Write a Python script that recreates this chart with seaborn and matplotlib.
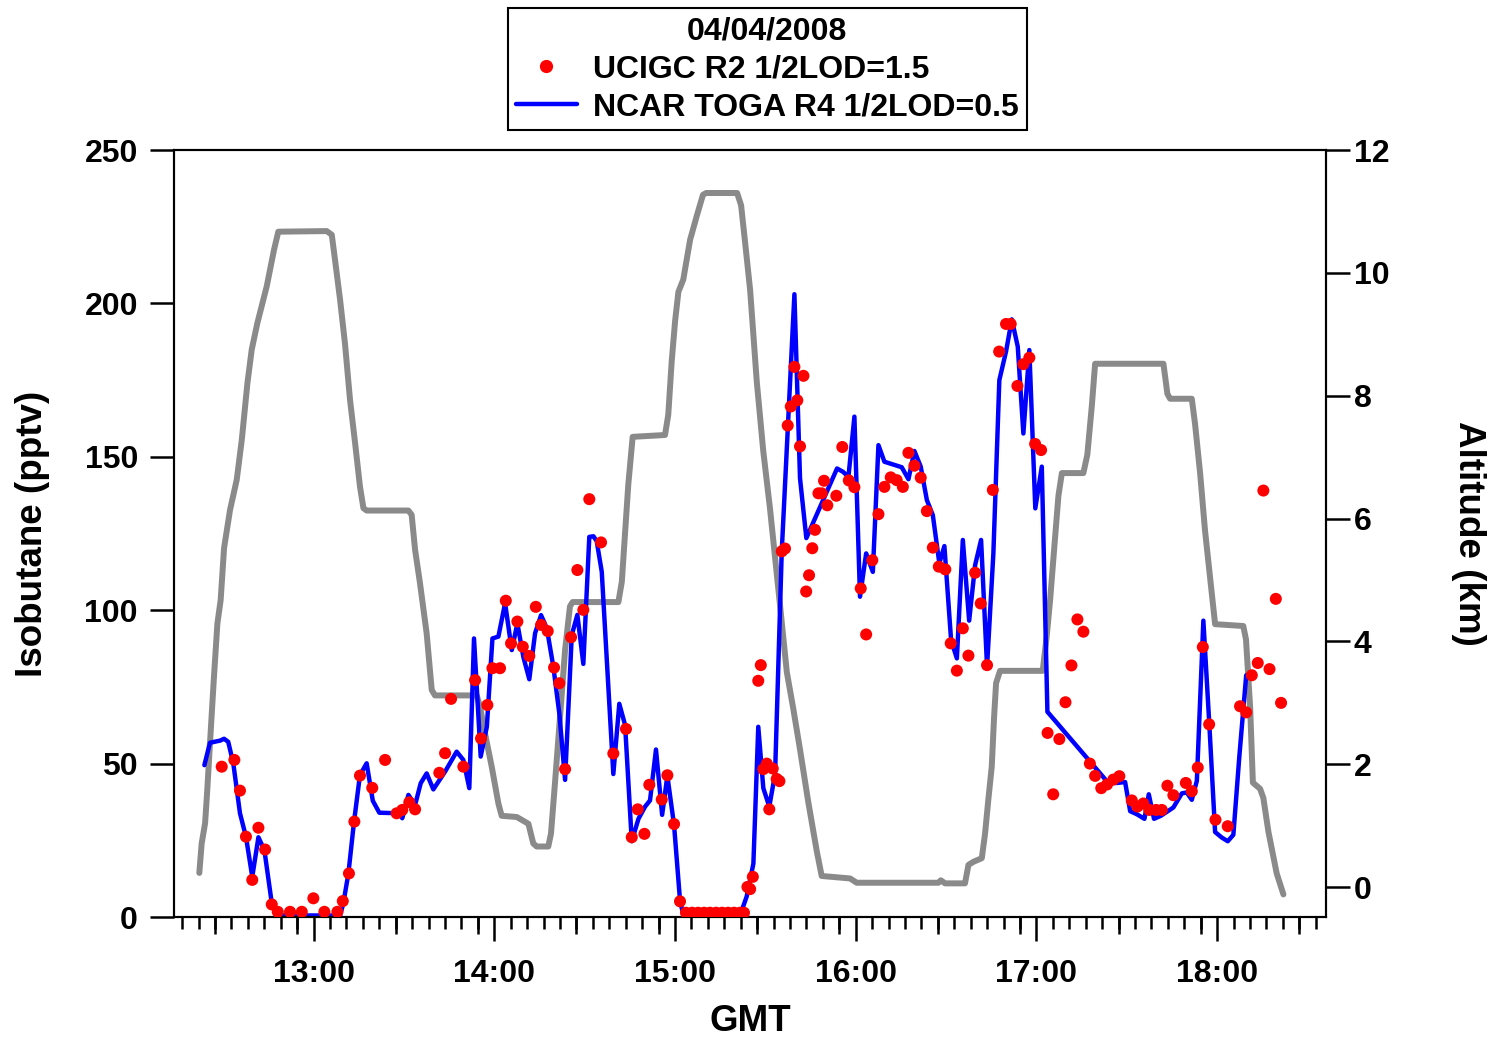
import numpy as np
import pandas as pd
import matplotlib
matplotlib.use("Agg")
import matplotlib.pyplot as plt
import seaborn as sns
from matplotlib.lines import Line2D
from matplotlib.ticker import FixedLocator, FuncFormatter, NullFormatter

# ==================== 数据 (GMT, decimal hours) ====================

# NCAR TOGA isobutane (pptv)
toga_time = [12.396, 12.427, 12.483, 12.505, 12.528, 12.556, 12.593, 12.626, 12.661, 12.695,
             12.728, 12.769, 12.815, 12.870, 12.930, 12.990, 13.050, 13.100, 13.147, 13.165,
             13.193, 13.224, 13.257, 13.294, 13.328, 13.364, 13.423, 13.479, 13.491, 13.525,
             13.562, 13.593, 13.626, 13.663, 13.728, 13.792, 13.829, 13.862, 13.888, 13.925,
             13.959, 13.990, 14.023, 14.060, 14.097, 14.128, 14.161, 14.194, 14.226, 14.259,
             14.291, 14.327, 14.360, 14.392, 14.429, 14.460, 14.493, 14.526, 14.549, 14.567,
             14.595, 14.659, 14.692, 14.724, 14.761, 14.798, 14.835, 14.862, 14.895, 14.929,
             14.958, 14.995, 15.028, 15.047, 15.110, 15.170, 15.230, 15.300, 15.360, 15.397,
             15.434, 15.461, 15.489, 15.522, 15.554, 15.591, 15.628, 15.661, 15.692, 15.727,
             15.897, 15.930, 15.960, 15.993, 16.024, 16.058, 16.095, 16.126, 16.159, 16.255,
             16.292, 16.325, 16.360, 16.394, 16.427, 16.463, 16.491, 16.528, 16.560, 16.593,
             16.628, 16.661, 16.694, 16.727, 16.762, 16.795, 16.832, 16.864, 16.897, 16.928,
             16.961, 16.994, 17.030, 17.061, 17.398, 17.448, 17.491, 17.519, 17.556, 17.598,
             17.622, 17.651, 17.689, 17.758, 17.805, 17.832, 17.860, 17.888, 17.924, 17.957,
             17.989, 18.026, 18.059, 18.090, 18.123, 18.161]
toga_isobutane = [49.5, 56.8, 57.5, 58.1, 57.1, 50.1, 33.8, 26.2, 13.1, 26.0,
                  21.8, 4.5, 0.5, 0.5, 0.5, 0.5, 0.5, 0.5, 0.5, 4.5,
                  14.2, 31.0, 46.3, 50.1, 37.9, 34.0, 33.9, 33.8, 32.2, 39.8,
                  36.5, 43.6, 46.8, 41.6, 47.4, 53.9, 51.2, 42.0, 90.8, 52.3,
                  62.0, 90.8, 91.4, 102.3, 87.0, 95.7, 84.8, 77.5, 92.5, 98.4,
                  94.1, 81.6, 66.4, 44.7, 91.9, 98.5, 82.5, 123.9, 124.1, 122.5,
                  112.5, 46.6, 69.5, 62.6, 24.7, 32.0, 36.0, 38.0, 54.6, 33.3,
                  46.0, 30.0, 5.4, 0.5, 0.5, 0.5, 0.5, 0.5, 0.5, 6.7,
                  17.4, 62.0, 42.0, 36.0, 46.6, 119.2, 163.7, 203.0, 143.0, 123.5,
                  146.2, 145.1, 143.5, 163.1, 104.4, 118.5, 112.5, 153.8, 148.4, 146.6,
                  142.7, 151.9, 146.8, 135.9, 131.0, 115.3, 120.9, 90.3, 84.3, 122.9,
                  96.6, 114.7, 122.9, 81.6, 118.5, 175.0, 184.3, 194.8, 185.9, 157.6,
                  184.8, 133.2, 146.8, 66.9, 43.7, 43.7, 44.0, 34.5, 33.5, 32.0,
                  40.0, 32.0, 33.0, 35.7, 40.3, 40.6, 38.2, 44.4, 96.6, 62.8,
                  27.7, 25.9, 24.7, 26.8, 52.3, 78.8]

# UCIGC isobutane (pptv)
ucigc_time = [12.492, 12.562, 12.593, 12.626, 12.661, 12.695, 12.732, 12.769, 12.802, 12.870,
              12.935, 12.999, 13.060, 13.132, 13.162, 13.196, 13.226, 13.257, 13.325, 13.396,
              13.460, 13.491, 13.530, 13.562, 13.696, 13.728, 13.761, 13.829, 13.894, 13.927,
              13.962, 13.990, 14.032, 14.064, 14.093, 14.128, 14.158, 14.194, 14.230, 14.259,
              14.296, 14.331, 14.360, 14.392, 14.425, 14.460, 14.493, 14.526, 14.591, 14.659,
              14.729, 14.761, 14.794, 14.831, 14.858, 14.927, 14.958, 14.995, 15.028, 15.061,
              15.095, 15.128, 15.161, 15.194, 15.228, 15.261, 15.294, 15.327, 15.360, 15.382,
              15.401, 15.416, 15.431, 15.461, 15.475, 15.489, 15.508, 15.522, 15.541, 15.563,
              15.578, 15.591, 15.609, 15.624, 15.641, 15.661, 15.677, 15.692, 15.711, 15.726,
              15.742, 15.760, 15.775, 15.794, 15.812, 15.825, 15.843, 15.893, 15.926, 15.962,
              15.993, 16.028, 16.058, 16.092, 16.126, 16.159, 16.194, 16.227, 16.261, 16.292,
              16.325, 16.360, 16.394, 16.427, 16.460, 16.496, 16.526, 16.560, 16.593, 16.624,
              16.661, 16.692, 16.727, 16.759, 16.794, 16.832, 16.858, 16.895, 16.928, 16.961,
              16.993, 17.026, 17.062, 17.093, 17.127, 17.161, 17.194, 17.227, 17.260, 17.296,
              17.325, 17.359, 17.391, 17.426, 17.459, 17.528, 17.559, 17.592, 17.625, 17.662,
              17.694, 17.725, 17.758, 17.827, 17.860, 17.893, 17.921, 17.956, 17.991, 18.059,
              18.127, 18.161, 18.192, 18.225, 18.256, 18.290, 18.325, 18.354]
ucigc_isobutane = [49.0, 51.2, 41.2, 26.2, 12.1, 29.1, 22.0, 4.1, 1.7, 1.7,
                   1.7, 6.1, 1.7, 1.7, 5.2, 14.2, 31.1, 46.1, 42.1, 51.2,
                   33.8, 34.9, 37.4, 35.1, 47.0, 53.4, 71.1, 49.0, 77.2, 58.2,
                   69.1, 81.1, 81.1, 103.1, 89.2, 96.3, 88.1, 85.1, 101.1, 95.2,
                   93.2, 81.3, 76.2, 48.2, 91.2, 113.1, 100.1, 136.2, 122.1, 53.3,
                   61.3, 26.0, 35.1, 27.1, 43.1, 38.3, 46.2, 30.3, 5.1, 1.4,
                   1.4, 1.4, 1.4, 1.4, 1.4, 1.4, 1.4, 1.4, 1.4, 1.4,
                   9.8, 9.1, 13.1, 77.0, 82.1, 48.2, 50.0, 35.1, 48.4, 45.0,
                   44.3, 119.2, 120.1, 160.2, 166.4, 179.3, 168.4, 153.4, 176.4, 106.1,
                   111.4, 120.2, 126.2, 138.1, 138.1, 142.2, 134.2, 137.3, 153.2, 142.3,
                   140.1, 107.1, 92.1, 116.3, 131.3, 140.2, 143.3, 142.4, 140.2, 151.3,
                   147.1, 143.2, 132.3, 120.4, 114.2, 113.3, 89.2, 80.3, 94.1, 85.2,
                   112.2, 102.2, 82.1, 139.2, 184.3, 193.3, 193.3, 173.1, 180.2, 182.3,
                   154.2, 152.2, 60.0, 40.0, 58.0, 70.0, 82.0, 97.0, 93.0, 50.0,
                   46.0, 42.0, 43.2, 44.8, 45.9, 38.0, 36.0, 37.0, 34.9, 34.9,
                   34.9, 42.8, 39.7, 43.7, 41.0, 48.7, 88.0, 62.8, 31.7, 29.6,
                   68.7, 66.7, 78.8, 82.8, 139.0, 80.8, 103.7, 69.8]

# aircraft altitude (km)
alt_time = [12.368, 12.381, 12.400, 12.412, 12.427, 12.449, 12.468, 12.486, 12.505, 12.538,
            12.575, 12.603, 12.634, 12.658, 12.689, 12.741, 12.781, 12.805, 13.073, 13.101,
            13.119, 13.147, 13.174, 13.202, 13.230, 13.257, 13.276, 13.294, 13.525, 13.543,
            13.562, 13.589, 13.626, 13.654, 13.672, 13.903, 13.921, 13.949, 13.986, 14.023,
            14.041, 14.125, 14.189, 14.216, 14.235, 14.299, 14.314, 14.336, 14.364, 14.392,
            14.419, 14.434, 14.687, 14.706, 14.724, 14.742, 14.766, 14.945, 14.963, 14.982,
            15.001, 15.019, 15.046, 15.084, 15.122, 15.155, 15.172, 15.344, 15.366, 15.388,
            15.416, 15.453, 15.489, 15.526, 15.582, 15.619, 15.655, 15.692, 15.738, 15.785,
            15.812, 15.969, 16.006, 16.458, 16.471, 16.495, 16.605, 16.624, 16.651, 16.698,
            16.716, 16.734, 16.753, 16.766, 16.777, 16.799, 17.035, 17.057, 17.076, 17.098,
            17.122, 17.141, 17.260, 17.282, 17.307, 17.325, 17.703, 17.725, 17.740, 17.860,
            17.878, 17.906, 17.933, 17.971, 17.989, 18.145, 18.160, 18.183, 18.198, 18.238,
            18.256, 18.284, 18.330, 18.367]
alt_km = [0.23, 0.71, 1.04, 1.58, 2.34, 3.42, 4.29, 4.67, 5.52, 6.14,
          6.63, 7.28, 8.20, 8.75, 9.18, 9.78, 10.37, 10.67, 10.68, 10.62,
          10.21, 9.56, 8.85, 7.93, 7.23, 6.52, 6.17, 6.13, 6.13, 6.06,
          5.49, 4.95, 4.13, 3.21, 3.12, 3.12, 2.94, 2.50, 1.96, 1.36,
          1.16, 1.14, 1.03, 0.71, 0.66, 0.66, 0.87, 1.69, 2.77, 3.86,
          4.57, 4.64, 4.64, 4.97, 5.77, 6.56, 7.33, 7.36, 7.69, 8.56,
          9.22, 9.69, 9.89, 10.54, 10.94, 11.27, 11.30, 11.30, 11.10, 10.50,
          9.72, 8.22, 7.09, 6.16, 4.57, 3.50, 2.90, 2.24, 1.38, 0.58,
          0.18, 0.14, 0.07, 0.07, 0.11, 0.06, 0.06, 0.36, 0.41, 0.47,
          0.87, 1.42, 1.96, 2.77, 3.32, 3.52, 3.52, 4.08, 4.67, 5.49,
          6.37, 6.74, 6.74, 7.04, 7.84, 8.52, 8.52, 8.03, 7.95, 7.95,
          7.54, 6.74, 5.81, 4.77, 4.28, 4.25, 4.03, 2.92, 1.70, 1.60,
          1.45, 0.90, 0.22, -0.12]

major_hours = [13, 14, 15, 16, 17, 18]
legend_title = "04/04/2008"
ucigc_label = "UCIGC R2 1/2LOD=1.5"
toga_label = "NCAR TOGA R4 1/2LOD=0.5"

# ==================== 绘图 ====================

sns.set_theme(style="white")
plt.rcParams["font.family"] = ["Liberation Sans", "DejaVu Sans"]
plt.rcParams["font.weight"] = "bold"
plt.rcParams["axes.labelweight"] = "bold"
plt.rcParams["axes.labelcolor"] = "black"
plt.rcParams["text.color"] = "black"
plt.rcParams["xtick.color"] = "black"
plt.rcParams["ytick.color"] = "black"

fig = plt.figure(figsize=(14.95, 10.41), dpi=100)
ax = fig.add_axes([0.1164, 0.1191, 0.7706, 0.7368])
ax2 = ax.twinx()
ax.set_zorder(ax2.get_zorder() + 1)
ax.patch.set_visible(False)

alt_df = pd.DataFrame({"GMT": alt_time, "Altitude": alt_km})
toga_df = pd.DataFrame({"GMT": toga_time, "Isobutane": toga_isobutane})
ucigc_df = pd.DataFrame({"GMT": ucigc_time, "Isobutane": ucigc_isobutane})

sns.lineplot(data=alt_df, x="GMT", y="Altitude", ax=ax2, color="#8a8a8a",
             linewidth=4.3, estimator=None, sort=False)
sns.lineplot(data=toga_df, x="GMT", y="Isobutane", ax=ax, color="#0000ff",
             linewidth=3.2, estimator=None, sort=False)
sns.scatterplot(data=ucigc_df, x="GMT", y="Isobutane", ax=ax, color="#ff0000",
                s=75, edgecolor="none", zorder=3)

ax.set_xlim(12.228, 18.603)
ax.set_ylim(0, 250)
ax2.set_ylim(-0.488, 12)

# x 轴刻度: 主刻度每小时, 次刻度 1/11 小时, 中刻度第 5/10 个
minor_pos = [12 + k / 11 for k in range(0, 80) if k % 11 != 0]
mid_pos = [12 + k / 11 for k in range(0, 80) if k % 11 in (5, 10)]
ax.xaxis.set_major_locator(FixedLocator(major_hours))
ax.xaxis.set_major_formatter(FuncFormatter(lambda v, p: f"{int(round(v))}:00"))
ax.xaxis.set_minor_locator(FixedLocator(minor_pos))
ax.xaxis.set_minor_formatter(NullFormatter())
ax.yaxis.set_major_locator(FixedLocator([0, 50, 100, 150, 200, 250]))
ax2.yaxis.set_major_locator(FixedLocator([0, 2, 4, 6, 8, 10, 12]))

ax.tick_params(axis="x", which="major", bottom=True, direction="out", length=17,
               width=1.8, labelsize=23, pad=13, colors="black")
ax.tick_params(axis="x", which="minor", bottom=True, direction="out", length=8.6,
               width=1.8, colors="black")
ax.tick_params(axis="y", which="major", left=True, direction="out", length=17,
               width=1.8, labelsize=23, pad=9, colors="black")
ax2.tick_params(axis="y", which="major", right=True, direction="out", length=17,
                width=1.8, labelsize=23, pad=3, colors="black")
ax2.tick_params(axis="x", bottom=False, labelbottom=False)

sec = ax.secondary_xaxis("bottom")
sec.xaxis.set_major_locator(FixedLocator(mid_pos))
sec.xaxis.set_major_formatter(NullFormatter())
sec.tick_params(axis="x", which="major", bottom=True, direction="out", length=12.2,
                width=1.8, colors="black")
sec.tick_params(axis="x", which="minor", bottom=False)
for sp in sec.spines.values():
    sp.set_visible(False)

for a in (ax, ax2):
    for sp in a.spines.values():
        sp.set_color("black")
        sp.set_linewidth(1.5)
        sp.set_visible(True)

ax.set_xlabel("GMT", fontsize=26.5, fontweight="bold", color="black", labelpad=11)
ax.set_ylabel("Isobutane (pptv)", fontsize=26.5, fontweight="bold", color="black",
              labelpad=25)
ax2.set_ylabel("Altitude (km)", fontsize=26.5, fontweight="bold", color="black",
               rotation=270, va="bottom", labelpad=44)
ax2.grid(False)
ax.grid(False)

handles = [Line2D([], [], marker="o", color="#ff0000", linestyle="none", markersize=8.5),
           Line2D([], [], color="#0000ff", linewidth=3.2)]
leg = ax.legend(handles=handles, labels=[ucigc_label, toga_label], title=legend_title,
                loc="lower center", bbox_to_anchor=(0.515, 1.026), borderaxespad=0,
                prop={"weight": "bold", "size": 23},
                title_fontproperties={"weight": "bold", "size": 23},
                frameon=True, fancybox=False, framealpha=1, edgecolor="black",
                handlelength=1.9, handletextpad=0.5, labelspacing=0.25, borderpad=0.25)
leg.get_frame().set_linewidth(1.5)

fig.savefig("out.png", dpi=100)
plt.close(fig)
